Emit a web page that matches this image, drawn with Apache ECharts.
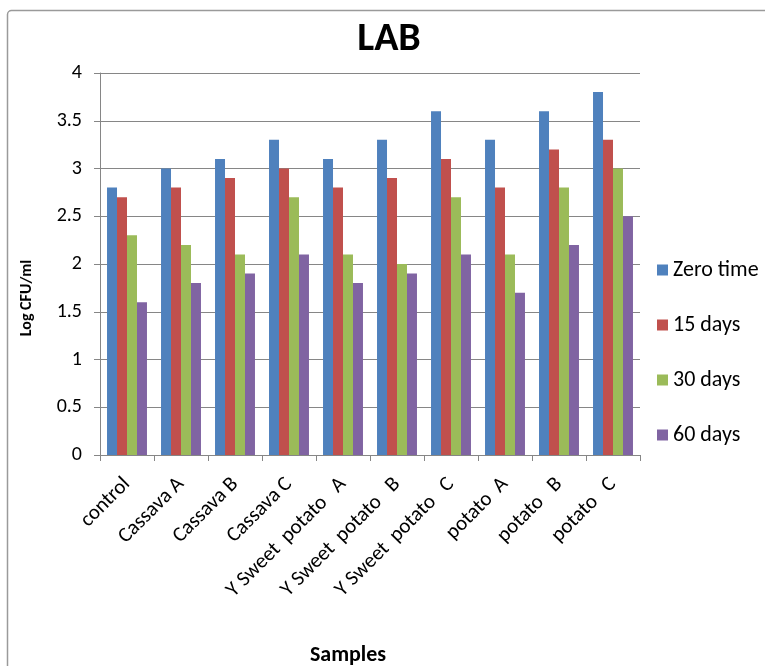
<!DOCTYPE html>
<html>
<head>
<meta charset="utf-8">
<script src="https://cdn.jsdelivr.net/npm/echarts@6/dist/echarts.min.js"></script>
<style>
  html, body { margin: 0; padding: 0; background: #ffffff; }
  #chart { width: 765px; height: 666px; }
</style>
</head>
<body>
<div id="chart"></div>
<script>
// Sample names along the x axis
const categories = [
  'control', 'Cassava A', 'Cassava B', 'Cassava C',
  'Y Sweet  potato   A', 'Y Sweet  potato   B', 'Y Sweet  potato   C',
  'potato  A', 'potato   B', 'potato   C'
];

// Log CFU/ml for each storage time
const zeroTime = [2.8, 3.0, 3.1, 3.3, 3.1, 3.3, 3.6, 3.3, 3.6, 3.8];
const days15   = [2.7, 2.8, 2.9, 3.0, 2.8, 2.9, 3.1, 2.8, 3.2, 3.3];
const days30   = [2.3, 2.2, 2.1, 2.7, 2.1, 2.0, 2.7, 2.1, 2.8, 3.0];
const days60   = [1.6, 1.8, 1.9, 2.1, 1.8, 1.9, 2.1, 1.7, 2.2, 2.5];

const seriesNames = ['Zero time', '15 days', '30 days', '60 days'];
const seriesData = [zeroTime, days15, days30, days60];
const colors = ['#4F81BD', '#C0504D', '#9BBB59', '#8064A2'];

const font = 'Carlito, Lato, "Open Sans", sans-serif';

const chart = echarts.init(document.getElementById('chart'), null, { renderer: 'canvas' });

chart.setOption({
  animation: false,
  color: colors,
  graphic: [
    {
      type: 'rect',
      shape: { x: 7.5, y: 10.5, width: 800, height: 700, r: 4 },
      style: { fill: 'none', stroke: '#9a9a9a', lineWidth: 1.5 },
      silent: true,
      z: -1
    },
    {
      type: 'text',
      x: 27,
      y: 298,
      rotation: Math.PI / 2,
      style: {
        text: 'Log CFU/ml',
        font: 'bold 16px ' + font,
        fill: '#000',
        align: 'center',
        verticalAlign: 'middle'
      },
      silent: true
    },
    {
      type: 'text',
      x: 348,
      y: 655,
      style: {
        text: 'Samples',
        font: 'bold 22px ' + font,
        fill: '#000',
        align: 'center',
        verticalAlign: 'middle'
      },
      silent: true
    },
    {
      type: 'text',
      x: 389,
      y: 40,
      style: {
        text: 'LAB',
        font: 'bold 40px ' + font,
        fill: '#000',
        align: 'center',
        verticalAlign: 'middle'
      },
      silent: true
    }
  ],
  legend: {
    orient: 'vertical',
    left: 652,
    top: 254,
    itemWidth: 11,
    itemHeight: 11,
    itemGap: 33,
    icon: 'rect',
    textStyle: { fontFamily: font, fontSize: 22, lineHeight: 22, color: '#000' },
    data: seriesNames
  },
  grid: {
    left: 100, right: 125, top: 73, bottom: 211,
    containLabel: false,
    outerBoundsMode: 'none'
  },
  xAxis: {
    type: 'category',
    data: categories,
    axisLine: { lineStyle: { color: '#868686', width: 1 } },
    axisTick: { show: true, length: 6, lineStyle: { color: '#868686' } },
    axisLabel: {
      rotate: 45,
      interval: 0,
      margin: 26,
      fontFamily: font,
      fontSize: 21,
      color: '#000'
    }
  },
  yAxis: {
    type: 'value',
    min: 0,
    max: 4,
    interval: 0.5,
    axisLine: { show: true, lineStyle: { color: '#868686', width: 1 } },
    axisTick: { show: true, length: 6, lineStyle: { color: '#868686' } },
    splitLine: { lineStyle: { color: '#868686', width: 1 } },
    axisLabel: { fontFamily: font, fontSize: 20, color: '#000', margin: 18 }
  },
  series: seriesNames.map((name, i) => ({
    name: name,
    type: 'bar',
    data: seriesData[i],
    barGap: '0%',
    barCategoryGap: '26%',
    itemStyle: { color: colors[i] }
  }))
});
</script>
</body>
</html>
